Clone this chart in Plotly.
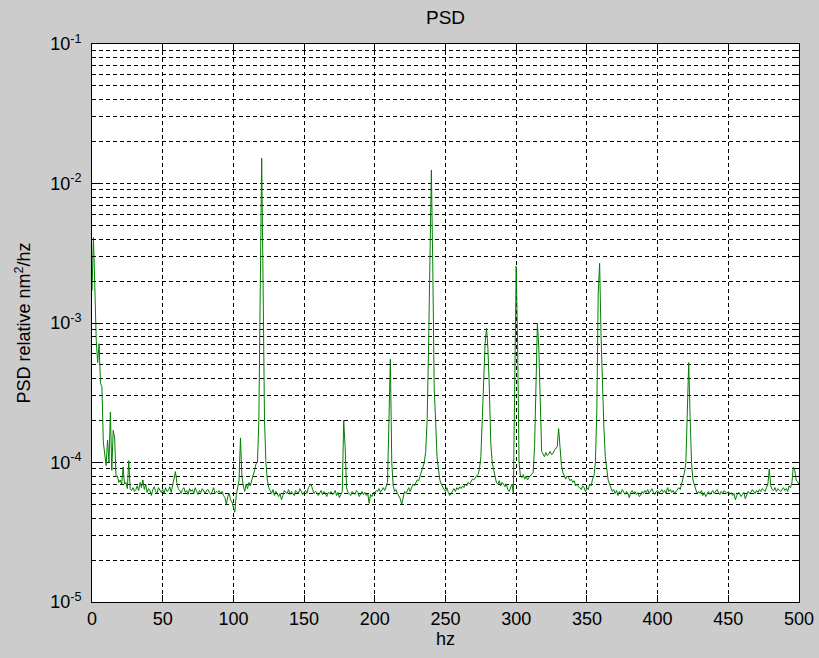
import plotly.graph_objects as go

# ---- data (PSD values in units of 1e-6, one per 1 Hz bin from 0 to 500 Hz) ----
freq_start_hz = 0
freq_step_hz = 1
psd_micro = [
    1700, 4100, 1800, 750, 520, 710, 370, 350, 140, 120,
    95, 145, 100, 230, 88, 170, 150, 79, 80, 72,
    75, 70, 93, 70, 72, 65, 103, 65, 63, 66,
    62, 64, 68, 63, 72, 66, 75, 64, 70, 61,
    65, 63, 58, 64, 67, 62, 60, 66, 63, 61,
    64, 60, 66, 62, 63, 67, 61, 70, 78, 86,
    72, 65, 63, 60, 64, 66, 61, 63, 59, 65,
    62, 64, 60, 66, 62, 59, 63, 61, 65, 62,
    60, 63, 64, 61, 59, 62, 66, 60, 62, 61,
    63, 60, 62, 58, 56, 50, 57, 60, 54, 52,
    48, 44, 58, 66, 75, 150, 80, 68, 62, 70,
    65, 72, 68, 75, 80, 88, 98, 100, 200, 2270,
    15200, 1900, 200, 100, 75, 66, 62, 60, 64, 58,
    62, 60, 57, 60, 54, 58, 63, 61, 60, 64,
    59, 62, 60, 58, 63, 61, 60, 65, 62, 59,
    61, 63, 60, 66, 68, 70, 64, 60, 62, 61,
    58, 60, 63, 59, 62, 60, 57, 61, 60, 62,
    59, 60, 63, 58, 61, 56, 60, 62, 200, 130,
    66, 61, 60, 58, 62, 60, 59, 63, 61, 57,
    60, 62, 59, 61, 58, 60, 51, 59, 57, 61,
    60, 63, 62, 65, 61, 64, 66, 63, 68, 72,
    200, 550, 100, 68, 62, 64, 60, 58, 55, 50,
    57, 62, 60, 63, 66, 62, 67, 70, 68, 72,
    75, 74, 80, 85, 90, 100, 120, 200, 640, 4100,
    12500, 2600, 340, 200, 110, 90, 75, 70, 66, 64,
    62, 66, 61, 58, 60, 63, 65, 62, 66, 64,
    67, 65, 68, 66, 70, 68, 72, 70, 74, 76,
    75, 78, 80, 82, 90, 110, 230, 390, 710, 920,
    660, 340, 140, 100, 88, 78, 72, 70, 74, 68,
    72, 70, 67, 70, 64, 62, 66, 70, 60, 610,
    2550, 710, 100, 80, 78, 82, 76, 80, 75, 78,
    80, 82, 85, 130, 390, 1000, 660, 250, 120, 115,
    110, 118, 112, 115, 120, 114, 116, 122, 125, 130,
    175, 120, 95, 85, 80, 76, 80, 78, 74, 76,
    72, 74, 68, 70, 67, 66, 64, 68, 66, 62,
    66, 64, 70, 68, 76, 80, 100, 230, 1640, 2680,
    810, 340, 180, 110, 88, 75, 70, 66, 62, 64,
    60, 63, 58, 62, 60, 64, 61, 59, 62, 60,
    56, 61, 63, 60, 62, 59, 61, 57, 58, 62,
    60, 63, 61, 64, 60, 62, 65, 61, 59, 62,
    63, 60, 62, 64, 61, 63, 60, 66, 62, 64,
    61, 63, 60, 62, 65, 66, 64, 70, 75, 85,
    100, 210, 520, 210, 100, 75, 68, 64, 60, 62,
    60, 63, 58, 61, 57, 60, 62, 59, 61, 63,
    60, 62, 64, 61, 59, 62, 60, 63, 61, 60,
    62, 59, 61, 58, 60, 54, 58, 61, 60, 57,
    59, 61, 55, 58, 62, 60, 61, 64, 62, 60,
    63, 61, 64, 62, 65, 63, 62, 66, 70, 90,
    68, 64, 63, 66, 62, 65, 63, 62, 64, 66,
    63, 65, 62, 68, 66, 72, 93, 88, 75, 72,
    70,
]
psd_unit = 1e-6

x_tick_vals = [0, 50, 100, 150, 200, 250, 300, 350, 400, 450, 500]
y_major_vals = [1e-5, 1e-4, 1e-3, 1e-2, 1e-1]
y_major_text = ["10<sup>-5</sup>", "10<sup>-4</sup>", "10<sup>-3</sup>",
                "10<sup>-2</sup>", "10<sup>-1</sup>"]
y_minor_vals = [m * d for d in [1e-5, 1e-4, 1e-3, 1e-2] for m in range(2, 10)]

title_text = "PSD"
x_title = "hz"
y_title = "PSD relative nm<sup>2</sup>/hz"

freqs = [freq_start_hz + i * freq_step_hz for i in range(len(psd_micro))]
psd = [v * psd_unit for v in psd_micro]

FONT = "Liberation Sans, Arial, Helvetica, sans-serif"
DASH = "4px,3px"

fig = go.Figure()
fig.add_trace(go.Scatter(x=freqs, y=psd, mode="lines",
                         line=dict(color="#008000", width=1),
                         showlegend=False, hoverinfo="x+y"))

fig.update_layout(
    width=819, height=658,
    margin=dict(l=92, r=20, t=44, b=56, pad=0, autoexpand=False),
    paper_bgcolor="#cccccc",
    plot_bgcolor="#ffffff",
    font=dict(family=FONT, size=18, color="#000000"),
    annotations=[
        dict(text=title_text, xref="paper", yref="paper", x=0.5, y=1,
             yshift=14, xanchor="center", yanchor="bottom", showarrow=False,
             font=dict(family=FONT, size=19, color="#000000")),
    ],
)

fig.update_xaxes(
    range=[0, 500], automargin=False,
    tickmode="array", tickvals=x_tick_vals,
    ticks="inside", ticklen=7, tickcolor="#000000", tickwidth=1,
    showline=True, linecolor="#000000", linewidth=1, mirror="ticks",
    showgrid=True, gridcolor="#000000", gridwidth=1, griddash=DASH,
    zeroline=False,
    tickfont=dict(family=FONT, size=18, color="#000000"),
    title=dict(text=x_title, font=dict(family=FONT, size=18, color="#000000"),
               standoff=4),
)

fig.update_yaxes(
    type="log", range=[-5, -1], automargin=False,
    tickmode="array", tickvals=y_major_vals, ticktext=y_major_text,
    ticks="inside", ticklen=7, tickcolor="#000000", tickwidth=1,
    ticklabelstandoff=6,
    showline=True, linecolor="#000000", linewidth=1, mirror="ticks",
    showgrid=True, gridcolor="#000000", gridwidth=1, griddash=DASH,
    zeroline=False,
    tickfont=dict(family=FONT, size=18, color="#000000"),
    minor=dict(tickmode="array", tickvals=y_minor_vals, ticks="inside",
               ticklen=4, tickcolor="#000000",
               showgrid=True, gridcolor="#000000", gridwidth=1, griddash=DASH),
    title=dict(text=y_title, font=dict(family=FONT, size=18, color="#000000"),
               standoff=14),
)

fig.write_html("out.html")
